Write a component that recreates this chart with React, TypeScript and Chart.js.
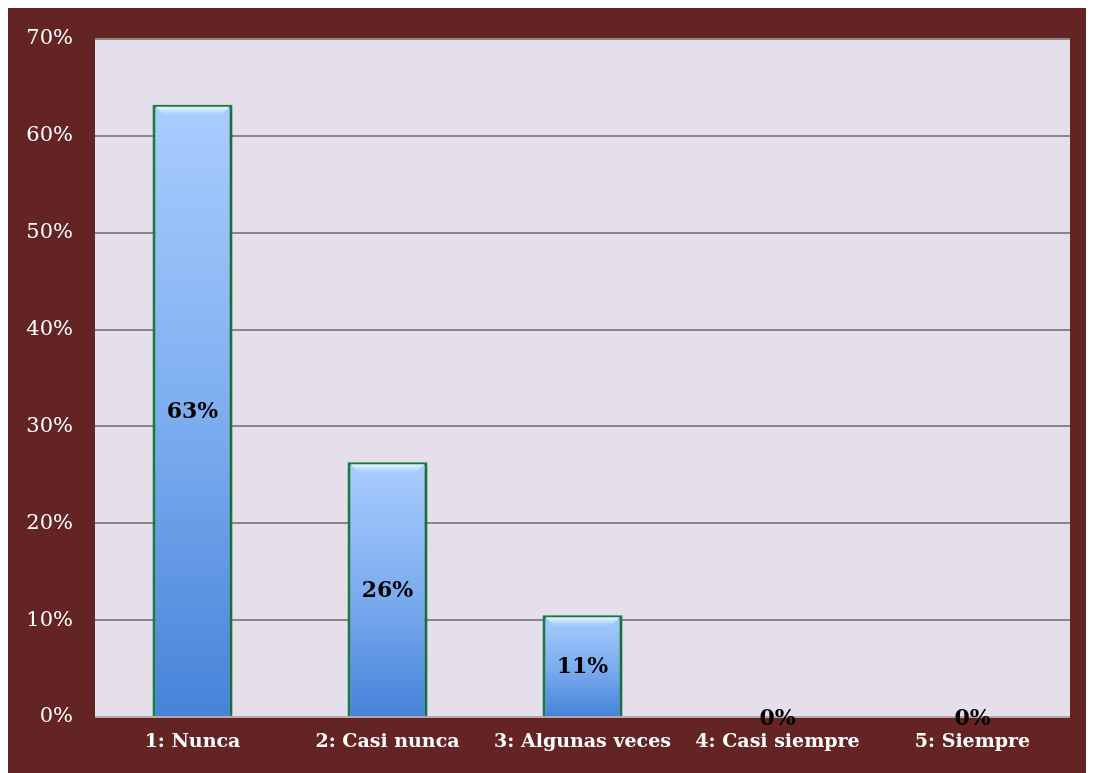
import React, { useEffect, useRef } from "react";
import { Chart, registerables } from "chart.js";

Chart.register(...registerables);

const categories = ["1: Nunca", "2: Casi nunca", "3: Algunas veces", "4: Casi siempre", "5: Siempre"];
const values = [63.2, 26.3, 10.5, 0, 0];
const valueLabels = ["63%", "26%", "11%", "0%", "0%"];
const yTicks = [0, 10, 20, 30, 40, 50, 60, 70];

const SERIF = "'DejaVu Serif', 'Liberation Serif', serif";

const bgPlugin = {
  id: "bgPlugin",
  beforeDraw(chart: any) {
    const { ctx, chartArea } = chart;
    ctx.save();
    ctx.fillStyle = "#642423";
    ctx.fillRect(0, 0, chart.width, chart.height);
    ctx.fillStyle = "#E4DFEB";
    ctx.fillRect(chartArea.left, chartArea.top, chartArea.right - chartArea.left, chartArea.bottom - chartArea.top);
    ctx.restore();
  },
};

const barStylePlugin = {
  id: "barStyle",
  beforeDatasetDraw(chart: any, args: any) {
    const { ctx } = chart;
    const meta = args.meta;
    meta.data.forEach((el: any) => {
      const top = Math.min(el.y, el.base);
      const bottom = Math.max(el.y, el.base);
      const g = ctx.createLinearGradient(0, top, 0, Math.max(bottom, top + 1));
      g.addColorStop(0, "#A9CDFE");
      g.addColorStop(0.5, "#7EAEF0");
      g.addColorStop(1, "#4683D9");
      el.options = { ...el.options, backgroundColor: g };
    });
    ctx.save();
    ctx.shadowColor = "rgba(0,0,0,0.28)";
    ctx.shadowBlur = 8;
    ctx.shadowOffsetX = 2;
    ctx.shadowOffsetY = 1;
  },
  afterDatasetDraw(chart: any, args: any) {
    const { ctx } = chart;
    ctx.restore();
    const meta = args.meta;
    meta.data.forEach((el: any, i: number) => {
      const top = Math.min(el.y, el.base);
      const bottom = Math.max(el.y, el.base);
      const w = el.width;
      const l = el.x - w / 2 + 3;
      const r = el.x + w / 2 - 3;
      if (bottom - top > 12) {
        const b = 9;
        const g = ctx.createLinearGradient(0, top + 2, 0, top + 2 + b);
        g.addColorStop(0, "rgba(235,255,250,0.95)");
        g.addColorStop(1, "rgba(200,225,255,0.0)");
        ctx.save();
        ctx.beginPath();
        ctx.moveTo(l, top + 2);
        ctx.lineTo(r, top + 2);
        ctx.lineTo(r - b, top + 2 + b);
        ctx.lineTo(l + b, top + 2 + b);
        ctx.closePath();
        ctx.fillStyle = g;
        ctx.fill();
        ctx.restore();
      }
      ctx.save();
      ctx.font = `bold 22px ${SERIF}`;
      ctx.fillStyle = "#000000";
      ctx.textAlign = "center";
      ctx.textBaseline = "middle";
      ctx.fillText(valueLabels[i], el.x, (top + bottom) / 2 + 2);
      ctx.restore();
    });
  },
};

export default function App() {
  const ref = useRef<HTMLCanvasElement | null>(null);
  useEffect(() => {
    document.body.style.overflow = "hidden";
    if (!ref.current) return;
    const chart = new Chart(ref.current, {
      type: "bar",
      data: {
        labels: categories,
        datasets: [
          {
            data: values,
            backgroundColor: "#6FA2EA",
            borderColor: "#1A8048",
            borderWidth: 3,
            categoryPercentage: 1,
            barPercentage: 0.41,
          },
        ],
      },
      options: {
        animation: false,
        responsive: false,
        maintainAspectRatio: false,
        layout: { padding: { top: 31, right: 24, left: 0, bottom: 0 } },
        plugins: { legend: { display: false }, tooltip: { enabled: false } },
        scales: {
          x: {
            grid: { display: false, drawTicks: false },
            border: { display: false },
            ticks: {
              color: "#FFFFFF",
              font: { family: SERIF, size: 19, weight: "bold" },
              padding: 14,
              maxRotation: 0,
              autoSkip: false,
            },
            afterFit(scale: any) {
              scale.height = 56;
              scale.paddingLeft = 0;
              scale.paddingRight = 0;
            },
          },
          y: {
            min: 0,
            max: 70,
            afterBuildTicks(scale: any) {
              scale.ticks = yTicks.map((v) => ({ value: v }));
            },
            grid: {
              drawTicks: false,
              lineWidth: 2,
              color: (c: any) => (c.tick && c.tick.value === 0 ? "#B8A4A8" : "#878787"),
            },
            border: { display: false },
            ticks: {
              color: "#FFFFFF",
              font: { family: SERIF, size: 21 },
              padding: 22,
              callback: (v: any) => `${v}%`,
            },
            afterFit(scale: any) {
              scale.width = 87;
              scale.paddingTop = 0;
              scale.paddingBottom = 0;
            },
          },
        },
      },
      plugins: [bgPlugin, barStylePlugin],
    });
    return () => chart.destroy();
  }, []);
  return (
    <div style={{ width: 1086, height: 765 }}>
      <canvas ref={ref} width={1086} height={765} style={{ display: "block" }} />
    </div>
  );
}
